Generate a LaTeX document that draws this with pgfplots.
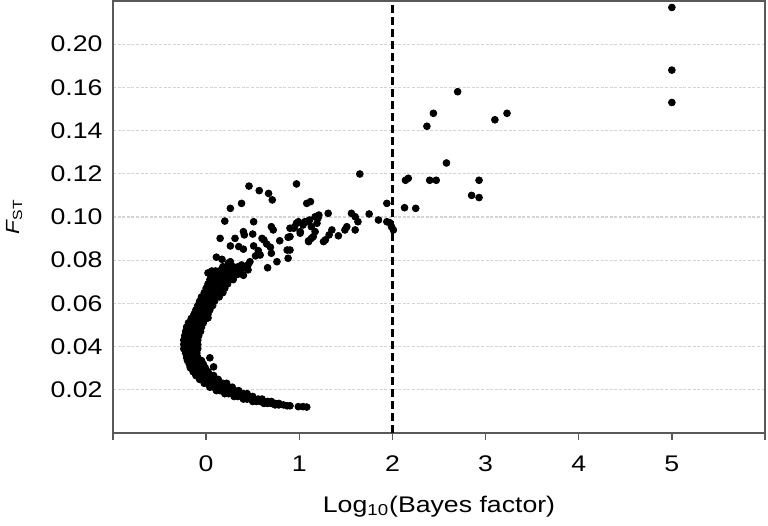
\documentclass[border=0pt]{standalone}
\usepackage{fontspec}
\setmainfont{Liberation Sans}[FakeStretch=1.18]
\usepackage{pgfplots}
\pgfplotsset{compat=1.18}

\begin{document}
\begin{tikzpicture}
\begin{axis}[
  width=326pt, height=216pt, scale only axis,
  xmin=-1, xmax=6, ymin=0, ymax=0.2,
  xtick={-1,0,1,2,3,4,5,6},
  xticklabels={,0,1,2,3,4,5,},
  ytick={0.02,0.04,0.06,0.08,0.10,0.12,0.14,0.16,0.18},
  yticklabels={0.02,0.04,0.06,0.08,0.10,0.12,0.14,0.16,0.20},
  tick align=outside,
  major tick length=3.5pt,
  xtick style={black!65, line width=0.75pt},
  ytick style={draw=none},
  axis line style={black!65, line width=0.75pt},
  ymajorgrids,
  major grid style={black!17, line width=0.6pt, dash pattern=on 1.5pt off 0.8pt},
  tick label style={font=\fontsize{11.3}{13}\selectfont},
  xticklabel style={yshift=-4.2pt},
  yticklabel style={xshift=1.8pt},
  every axis x label/.style={at={(axis description cs:0.5,-0.183)}, anchor=base,
    font=\fontsize{11.3}{13}\selectfont},
  every axis y label/.style={at={(axis description cs:-0.144,0.5)}, rotate=90, anchor=base,
    font=\fontsize{9.5}{11}\selectfont},
  xlabel={Log\textsubscript{10}(Bayes factor)},
  ylabel={\textit{F}\textsubscript{ST}},
]
% threshold
\addplot[black, line width=1.3pt, dash pattern=on 4pt off 2pt] coordinates {(2,0) (2,0.2)};
% loci
\addplot[only marks, mark=*, mark size=1.7pt, black] table {
x y
0.06 0.0750
0.10 0.0750
0.14 0.0750
0.19 0.0750
0.24 0.0750
0.30 0.0750
0.05 0.0730
0.09 0.0730
0.13 0.0730
0.17 0.0730
0.21 0.0730
0.26 0.0730
0.31 0.0730
0.04 0.0710
0.08 0.0710
0.12 0.0710
0.16 0.0710
0.20 0.0710
0.25 0.0710
0.29 0.0710
0.02 0.0690
0.06 0.0690
0.10 0.0690
0.14 0.0690
0.18 0.0690
0.23 0.0690
0.00 0.0670
0.04 0.0670
0.08 0.0670
0.12 0.0670
0.16 0.0670
0.20 0.0670
-0.02 0.0650
0.02 0.0650
0.06 0.0650
0.10 0.0650
0.14 0.0650
0.18 0.0650
-0.05 0.0630
-0.01 0.0630
0.03 0.0630
0.07 0.0630
0.11 0.0630
0.14 0.0630
-0.07 0.0610
-0.03 0.0610
0.01 0.0610
0.05 0.0610
0.09 0.0610
-0.09 0.0590
-0.05 0.0590
-0.01 0.0590
0.03 0.0590
0.07 0.0590
-0.11 0.0570
-0.07 0.0570
-0.03 0.0570
0.01 0.0570
0.04 0.0570
-0.13 0.0550
-0.09 0.0550
-0.05 0.0550
-0.01 0.0550
0.02 0.0550
-0.16 0.0530
-0.12 0.0530
-0.08 0.0530
-0.04 0.0530
0.00 0.0530
-0.19 0.0510
-0.15 0.0510
-0.11 0.0510
-0.07 0.0510
-0.03 0.0510
-0.21 0.0490
-0.17 0.0490
-0.13 0.0490
-0.09 0.0490
-0.05 0.0490
-0.22 0.0470
-0.18 0.0470
-0.14 0.0470
-0.10 0.0470
-0.06 0.0470
-0.23 0.0450
-0.19 0.0450
-0.15 0.0450
-0.11 0.0450
-0.08 0.0450
-0.24 0.0430
-0.20 0.0430
-0.16 0.0430
-0.12 0.0430
-0.09 0.0430
-0.24 0.0410
-0.20 0.0410
-0.16 0.0410
-0.12 0.0410
-0.09 0.0410
-0.24 0.0390
-0.20 0.0390
-0.16 0.0390
-0.12 0.0390
-0.09 0.0390
-0.22 0.0370
-0.18 0.0370
-0.14 0.0370
-0.10 0.0370
-0.21 0.0350
-0.17 0.0350
-0.13 0.0350
-0.09 0.0350
-0.20 0.0335
-0.16 0.0335
-0.12 0.0335
-0.08 0.0335
-0.05 0.0335
-0.18 0.0318
-0.14 0.0318
-0.10 0.0318
-0.06 0.0318
-0.03 0.0318
-0.17 0.0302
-0.13 0.0302
-0.09 0.0302
-0.05 0.0302
-0.01 0.0302
-0.14 0.0284
-0.10 0.0284
-0.06 0.0284
-0.02 0.0284
0.02 0.0284
-0.11 0.0266
-0.07 0.0266
-0.03 0.0266
0.01 0.0266
0.05 0.0266
0.08 0.0266
-0.07 0.0248
-0.03 0.0248
0.01 0.0248
0.05 0.0248
0.09 0.0248
0.13 0.0248
-0.02 0.0230
0.02 0.0230
0.06 0.0230
0.10 0.0230
0.14 0.0230
0.18 0.0230
0.22 0.0230
0.04 0.0212
0.08 0.0212
0.12 0.0212
0.16 0.0212
0.20 0.0212
0.24 0.0212
0.28 0.0212
0.11 0.0196
0.15 0.0196
0.19 0.0196
0.23 0.0196
0.27 0.0196
0.31 0.0196
0.35 0.0196
0.20 0.0182
0.24 0.0182
0.28 0.0182
0.32 0.0182
0.36 0.0182
0.40 0.0182
0.44 0.0182
0.30 0.0169
0.34 0.0169
0.38 0.0169
0.42 0.0169
0.46 0.0169
0.50 0.0169
0.40 0.0157
0.44 0.0157
0.48 0.0157
0.52 0.0157
0.56 0.0157
0.60 0.0157
0.50 0.0146
0.54 0.0146
0.58 0.0146
0.62 0.0146
0.66 0.0146
0.70 0.0146
0.62 0.0137
0.66 0.0137
0.70 0.0137
0.74 0.0137
0.78 0.0137
0.74 0.0130
0.78 0.0130
0.83 0.0130
0.87 0.0126
0.90 0.0126
0.99 0.0122
1.04 0.0122
1.08 0.0120
0.04 0.0348
0.08 0.0306
0.02 0.0533
0.02 0.0741
0.17 0.0746
0.18 0.0770
0.24 0.0787
0.22 0.0765
0.34 0.0769
0.45 0.0778
0.40 0.0763
0.40 0.0730
0.34 0.0735
0.46 0.1143
0.57 0.1122
0.67 0.1109
0.71 0.1079
0.97 0.1153
0.38 0.1063
0.26 0.1040
1.08 0.1063
1.12 0.1071
0.20 0.0981
0.51 0.0978
0.15 0.0901
0.31 0.0901
0.40 0.0932
0.41 0.0917
0.50 0.0921
0.26 0.0866
0.35 0.0863
0.40 0.0851
0.51 0.0866
0.60 0.0901
0.62 0.0894
0.65 0.0875
0.69 0.0860
0.70 0.0832
0.56 0.0844
0.58 0.0824
0.70 0.0955
0.72 0.0940
0.79 0.0890
0.88 0.0906
0.87 0.0847
0.88 0.0809
0.76 0.0793
0.66 0.0765
0.90 0.0948
0.95 0.0955
0.99 0.0978
1.01 0.0925
1.04 0.0963
1.08 0.0978
1.11 0.0986
1.13 0.0955
1.17 0.1001
1.19 0.0971
1.21 0.1009
1.17 0.0932
1.10 0.0890
1.15 0.0909
1.28 0.0894
1.31 0.1017
0.11 0.0814
0.17 0.0804
0.26 0.0793
0.29 0.0770
0.35 0.0767
0.38 0.0778
0.44 0.0770
0.47 0.0793
0.45 0.0755
0.36 0.0747
0.53 0.0820
1.65 0.1199
1.94 0.1063
2.13 0.1043
2.17 0.1179
2.14 0.1170
1.56 0.1017
1.60 0.1001
1.63 0.0978
1.75 0.1014
1.85 0.0986
1.94 0.0978
1.97 0.0974
1.99 0.0955
2.01 0.0940
1.60 0.0940
1.49 0.0940
1.51 0.0955
1.42 0.0913
1.35 0.0940
1.32 0.0917
1.26 0.0886
1.20 0.0994
1.06 0.0978
0.97 0.0971
0.94 0.0948
1.01 0.0932
1.13 0.0901
1.10 0.0886
0.90 0.0909
0.90 0.0847
2.25 0.1040
2.40 0.1170
2.47 0.1170
2.93 0.1170
2.85 0.1100
2.93 0.1090
2.58 0.1250
2.37 0.1420
2.44 0.1480
2.70 0.1580
3.10 0.1450
3.23 0.1480
5.00 0.1970
5.00 0.1680
5.00 0.1530
};
\end{axis}
\pgfresetboundingbox
\path ([shift={(-56.5pt,-46.5pt)}]current axis.south west) rectangle ([shift={(1.5pt,0.5pt)}]current axis.north east);
\end{tikzpicture}
\end{document}
